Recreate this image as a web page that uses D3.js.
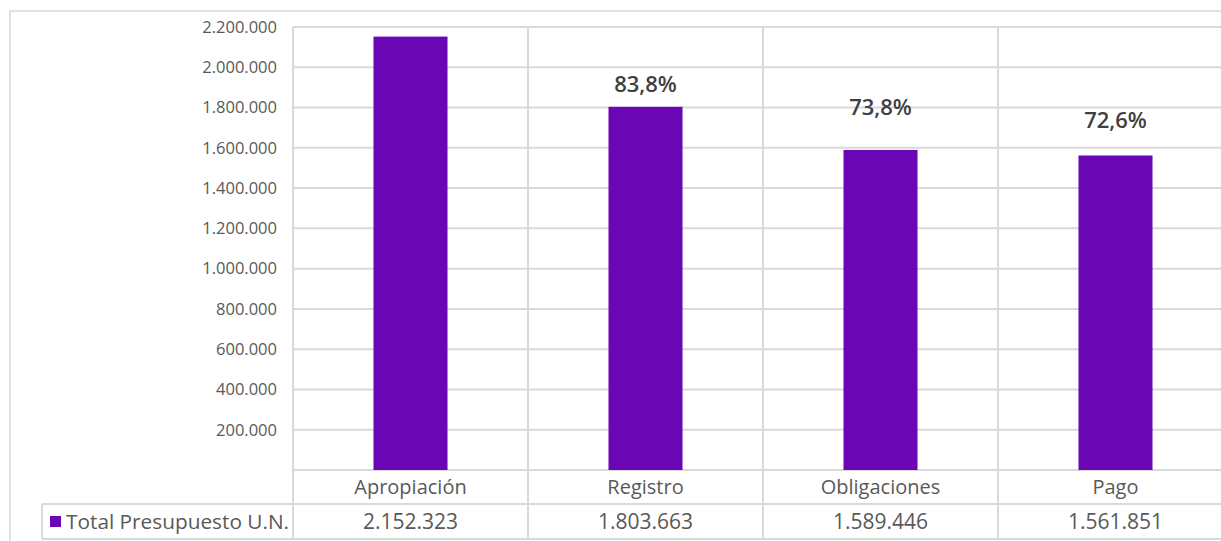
<!DOCTYPE html>
<html><head><meta charset="utf-8">
<script src="https://cdn.jsdelivr.net/npm/d3@7"></script>
<style>
html,body{margin:0;padding:0;background:#fff;}
svg{display:block;}
text{font-family:"Open Sans",sans-serif;}
</style></head>
<body>
<svg id="chart" width="1221" height="541"></svg>
<script>
const categories = ["Apropiación", "Registro", "Obligaciones", "Pago"];
const values = [2152323, 1803663, 1589446, 1561851];
const valueLabels = ["2.152.323", "1.803.663", "1.589.446", "1.561.851"];
const pctLabels = [null, "83,8%", "73,8%", "72,6%"];
const pctLabelAnchor = [null, 1915000, 1800000, 1735000];
const yTicks = [200000, 400000, 600000, 800000, 1000000, 1200000, 1400000, 1600000, 1800000, 2000000, 2200000];
const seriesName = "Total Presupuesto U.N.";

const svg = d3.select("#chart");
const grid = "#d9d9d9", txt = "#595959", bar = "#6a06b4";
const L = 293, R = 1233, T = 27, B = 470;
const row1 = 504, row2 = 539;

const x = d3.scaleBand().domain(categories).range([L, R]).paddingInner(0).paddingOuter(0);
const y = d3.scaleLinear().domain([0, 2200000]).range([B, T]);
const fmt = d => d3.format(",")(d).replace(/,/g, ".");

// outer border
svg.append("rect").attr("x", 10).attr("y", 11).attr("width", 1240).attr("height", 560)
  .attr("fill", "none").attr("stroke", grid).attr("stroke-width", 1.5);

// gridlines
svg.append("g").selectAll("line").data(yTicks).join("line")
  .attr("x1", L).attr("x2", R).attr("y1", d => y(d)).attr("y2", d => y(d))
  .attr("stroke", grid).attr("stroke-width", 2);

// vertical category separators through plot and table
svg.append("g").selectAll("line").data(categories.slice(1)).join("line")
  .attr("x1", d => x(d)).attr("x2", d => x(d)).attr("y1", T).attr("y2", row2)
  .attr("stroke", grid).attr("stroke-width", 2);

// y axis line
svg.append("line").attr("x1", L).attr("x2", L).attr("y1", T).attr("y2", row2)
  .attr("stroke", grid).attr("stroke-width", 2);

// table horizontal lines
[[L, B], [42, row1], [42, row2]].forEach(([x0, yy]) => {
  svg.append("line").attr("x1", x0).attr("x2", R).attr("y1", yy).attr("y2", yy)
    .attr("stroke", grid).attr("stroke-width", 2);
});
svg.append("line").attr("x1", 42).attr("x2", 42).attr("y1", row1).attr("y2", row2)
  .attr("stroke", grid).attr("stroke-width", 2);

// y tick labels
svg.append("g").selectAll("text").data(yTicks).join("text")
  .attr("x", L - 16).attr("y", d => y(d)).attr("dy", "0.35em")
  .attr("text-anchor", "end").attr("fill", txt).attr("font-size", 16.5)
  .text(fmt);

// bars
const bw = x.bandwidth() * 0.315;
svg.append("g").selectAll("rect").data(values).join("rect")
  .attr("x", (d, i) => x(categories[i]) + x.bandwidth() / 2 - bw / 2)
  .attr("width", bw)
  .attr("y", d => y(d)).attr("height", d => B - y(d))
  .attr("fill", bar);

// percent labels
svg.append("g").selectAll("text").data(pctLabels.map((p, i) => ({p, i})).filter(d => d.p))
  .join("text")
  .attr("x", d => x(categories[d.i]) + x.bandwidth() / 2)
  .attr("y", d => y(pctLabelAnchor[d.i])).attr("dy", "0.35em")
  .attr("text-anchor", "middle").attr("fill", "#404040")
  .attr("font-size", 22).attr("font-weight", 600)
  .text(d => d.p);

// category labels
svg.append("g").selectAll("text").data(categories).join("text")
  .attr("x", d => x(d) + x.bandwidth() / 2).attr("y", (B + row1) / 2).attr("dy", "0.35em")
  .attr("text-anchor", "middle").attr("fill", txt).attr("font-size", 20)
  .text(d => d);

// values row
svg.append("g").selectAll("text").data(valueLabels).join("text")
  .attr("x", (d, i) => x(categories[i]) + x.bandwidth() / 2).attr("y", (row1 + row2) / 2).attr("dy", "0.35em")
  .attr("text-anchor", "middle").attr("fill", txt).attr("font-size", 21)
  .text(d => d);

// legend
svg.append("rect").attr("x", 50).attr("y", 516).attr("width", 11).attr("height", 11).attr("fill", bar);
svg.append("text").attr("x", 66).attr("y", (row1 + row2) / 2).attr("dy", "0.35em")
  .attr("fill", txt).attr("font-size", 20.8).text(seriesName);
</script>
</body></html>
